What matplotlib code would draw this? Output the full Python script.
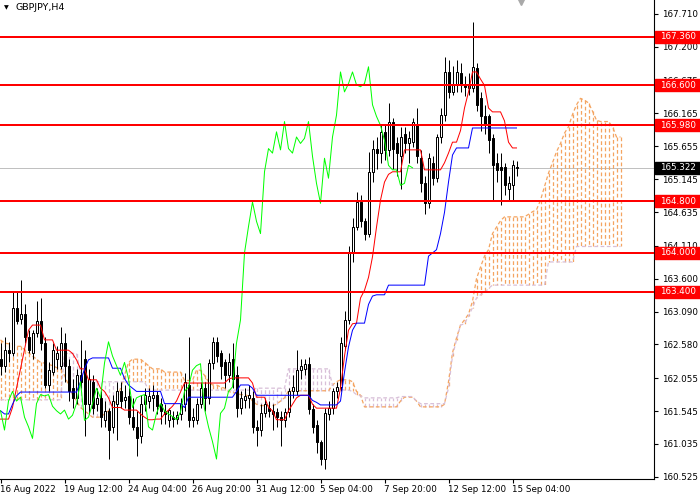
import matplotlib
matplotlib.use("Agg")
import matplotlib.pyplot as plt
import matplotlib.transforms as mtransforms
from matplotlib.patches import Rectangle

symbol = "GBPJPY,H4"

# H4 candles, bar 0 = 16 Aug 20:00
opens = [162.35, 162.25, 162.50, 162.45, 163.15, 162.98, 163.05, 162.70, 162.45, 162.75,
         162.95, 162.60, 161.95, 162.15, 162.35, 162.25, 162.60, 162.25, 161.90, 161.75,
         162.10, 162.35, 161.65, 162.00, 161.65, 161.75, 161.40, 161.55, 161.30, 161.65,
         161.85, 161.72, 161.78, 161.45, 161.30, 161.15, 161.66, 161.70, 161.75, 161.80,
         161.65, 161.55, 161.40, 161.45, 161.42, 161.50, 161.66, 161.95, 161.40, 161.41,
         161.66, 161.90, 161.75, 162.29, 162.62, 162.45, 162.30, 162.10, 162.35, 162.10,
         161.60, 161.72, 161.75, 161.75, 161.30, 161.25, 161.51, 161.60, 161.55, 161.53,
         161.46, 161.41, 161.53, 161.85, 161.85, 162.18, 162.20, 162.28, 161.58, 161.33,
         161.07, 160.80, 161.50, 161.59, 161.85, 161.92, 162.55, 162.96, 164.00, 164.41,
         164.79, 164.49, 164.30, 165.26, 165.62, 165.55, 165.88, 165.60, 166.04, 165.70,
         165.50, 165.85, 165.70, 165.73, 166.00, 165.47, 165.08, 164.77, 165.40, 165.16,
         165.80, 166.14, 166.81, 166.50, 166.60, 166.79, 166.63, 166.56, 166.56, 166.87,
         166.40, 166.12, 166.12, 165.78, 165.39, 165.34, 165.34, 165.00, 165.05, 165.33]
highs = [162.60, 162.70, 162.62, 163.40, 163.40, 163.58, 163.20, 162.80, 162.80, 163.25,
         163.30, 162.70, 162.30, 162.60, 162.55, 162.85, 162.75, 162.35, 162.05, 162.20,
         162.65, 162.50, 162.20, 162.10, 161.90, 161.85, 161.70, 161.60, 161.80, 162.00,
         162.00, 161.95, 161.90, 161.75, 161.55, 161.80, 161.90, 161.90, 161.95, 161.85,
         161.75, 161.65, 161.60, 161.55, 161.55, 161.75, 162.13, 162.70, 161.60, 161.75,
         162.00, 162.00, 162.35, 162.70, 162.70, 162.50, 162.35, 162.45, 162.60, 162.25,
         161.85, 161.90, 161.95, 161.85, 161.40, 161.66, 161.75, 161.70, 161.66, 161.60,
         161.55, 161.60, 161.90, 162.10, 162.49, 162.35, 162.35, 162.39, 161.65, 161.40,
         161.10, 161.60, 161.70, 161.90, 162.00, 162.70, 163.10, 164.10, 164.55, 164.95,
         164.90, 164.55, 165.57, 165.75, 165.80, 166.00, 166.00, 166.33, 166.10, 165.80,
         165.95, 165.95, 165.90, 166.10, 166.25, 165.60, 165.20, 165.55, 165.50, 165.85,
         166.25, 167.04, 167.00, 166.90, 167.00, 166.95, 166.75, 166.80, 167.58, 166.95,
         166.50, 166.30, 166.15, 165.85, 165.55, 165.55, 165.40, 165.20, 165.45, 165.42]
lows = [162.10, 162.15, 162.30, 162.40, 162.90, 162.90, 162.60, 162.45, 162.35, 162.70,
        162.50, 161.90, 161.85, 162.10, 162.20, 162.20, 162.00, 161.70, 161.60, 161.65,
        161.90, 161.15, 161.50, 161.50, 161.55, 161.30, 161.30, 160.80, 161.20, 161.10,
        161.60, 161.60, 161.35, 161.25, 160.84, 161.05, 161.55, 161.60, 161.55, 161.50,
        161.35, 161.35, 161.30, 161.30, 161.35, 161.40, 161.55, 161.30, 161.30, 161.35,
        161.60, 161.55, 161.65, 162.20, 162.30, 162.05, 161.90, 162.00, 161.90, 161.45,
        161.50, 161.60, 161.60, 161.20, 161.00, 161.15, 161.45, 161.45, 161.25, 161.30,
        161.00, 161.30, 161.45, 161.75, 161.80, 162.05, 162.10, 161.50, 161.20, 160.90,
        160.70, 160.65, 161.40, 161.50, 161.75, 161.85, 162.50, 162.90, 163.86, 164.35,
        164.40, 164.20, 164.25, 165.10, 165.30, 165.40, 165.45, 165.50, 165.30, 165.20,
        165.00, 165.55, 165.40, 165.65, 165.40, 164.95, 164.60, 164.70, 165.05, 165.10,
        165.70, 166.05, 166.40, 166.45, 166.50, 166.50, 166.43, 166.45, 166.50, 166.20,
        165.90, 165.85, 165.55, 164.82, 165.10, 164.74, 164.90, 164.80, 164.82, 165.20]
closes = [162.25, 162.50, 162.45, 163.15, 162.95, 163.05, 162.70, 162.50, 162.75, 162.95,
          162.60, 161.95, 162.18, 162.50, 162.45, 162.60, 162.25, 161.85, 161.75, 162.10,
          162.00, 161.65, 162.05, 161.60, 161.75, 161.45, 161.55, 161.25, 161.70, 161.85,
          161.70, 161.76, 161.45, 161.30, 161.12, 161.66, 161.80, 161.78, 161.80, 161.62,
          161.55, 161.50, 161.56, 161.42, 161.48, 161.66, 162.00, 161.40, 161.45, 161.66,
          161.90, 161.75, 162.29, 162.62, 162.40, 162.25, 162.10, 162.30, 162.05, 161.60,
          161.75, 161.78, 161.80, 161.30, 161.25, 161.51, 161.66, 161.55, 161.50, 161.46,
          161.41, 161.53, 161.85, 161.92, 162.18, 162.25, 162.28, 161.58, 161.30, 161.07,
          160.80, 161.51, 161.59, 161.85, 161.92, 162.60, 162.96, 164.00, 164.41, 164.79,
          164.49, 164.30, 165.26, 165.62, 165.55, 165.88, 165.60, 166.04, 165.62, 165.55,
          165.80, 165.70, 165.78, 166.04, 165.50, 165.08, 164.77, 165.47, 165.16, 165.80,
          166.14, 166.81, 166.50, 166.63, 166.81, 166.61, 166.58, 166.63, 166.89, 166.30,
          166.12, 165.98, 165.75, 165.36, 165.29, 165.29, 165.05, 165.08, 165.36, 165.322]

# Ichimoku lines
tenkan = [161.42, 161.42, 161.42, 161.60, 161.90, 162.20, 162.50, 162.80, 162.88, 162.88,
          162.88, 162.65, 162.65, 162.65, 162.49, 162.49, 162.49, 162.49, 162.44, 162.34,
          162.20, 162.20, 162.03, 162.03, 162.03, 161.90, 161.85, 161.75, 161.60, 161.60,
          161.60, 161.56, 161.56, 161.56, 161.56, 161.50, 161.45, 161.41, 161.41, 161.42,
          161.42, 161.50, 161.56, 161.62, 161.70, 161.84, 161.98, 161.98, 161.98, 161.98,
          161.98, 161.98, 161.98, 161.98, 161.98, 161.98, 161.98, 162.04, 162.06, 162.06,
          162.06, 162.06, 162.06, 161.98, 161.76, 161.76, 161.76, 161.60, 161.55, 161.41,
          161.41, 161.41, 161.55, 161.65, 161.75, 161.79, 161.79, 161.79, 161.65, 161.59,
          161.59, 161.59, 161.59, 161.59, 161.59, 161.90, 162.40, 162.80, 162.90, 162.91,
          163.30, 163.42, 163.62, 163.94, 164.40, 164.82, 165.10, 165.22, 165.26, 165.26,
          165.26, 165.60, 165.60, 165.60, 165.60, 165.60, 165.29, 165.29, 165.29, 165.29,
          165.29, 165.40, 165.55, 165.72, 165.72, 165.90, 166.25, 166.50, 166.81, 166.81,
          166.70, 166.60, 166.25, 166.19, 166.19, 166.19, 166.05, 165.72, 165.63, 165.63]
kijun = [161.55, 161.50, 161.50, 161.65, 161.78, 161.84, 161.84, 161.84, 161.84, 161.84,
         161.84, 161.84, 161.84, 161.84, 161.84, 161.84, 161.84, 161.84, 161.84, 161.84,
         162.00, 162.20, 162.34, 162.37, 162.37, 162.37, 162.37, 162.37, 162.21, 162.21,
         162.21, 162.05, 161.95, 161.90, 161.85, 161.85, 161.85, 161.85, 161.85, 161.85,
         161.85, 161.66, 161.66, 161.66, 161.66, 161.66, 161.60, 161.76, 161.76, 161.76,
         161.76, 161.76, 161.76, 161.76, 161.76, 161.76, 161.76, 161.76, 161.76, 161.85,
         161.95, 161.95, 161.95, 161.90, 161.79, 161.79, 161.79, 161.79, 161.79, 161.79,
         161.79, 161.79, 161.79, 161.79, 161.79, 161.79, 161.79, 161.79, 161.71, 161.68,
         161.64, 161.64, 161.64, 161.64, 161.64, 161.70, 162.15, 162.54, 162.80, 162.91,
         162.91, 162.91, 163.20, 163.33, 163.35, 163.35, 163.35, 163.50, 163.50, 163.50,
         163.50, 163.50, 163.50, 163.50, 163.50, 163.50, 163.50, 163.95, 164.00, 164.05,
         164.30, 164.63, 165.10, 165.52, 165.63, 165.63, 165.63, 165.63, 165.94, 165.94,
         165.94, 165.94, 165.94, 165.94, 165.94, 165.94, 165.94, 165.94, 165.94, 165.94]
span_a = [162.65, 162.60, 162.59, 162.59, 162.55, 162.55, 162.50, 162.45, 162.40, 162.35,
          162.30, 162.29, 162.27, 162.25, 162.22, 162.20, 162.10, 161.95, 161.80, 161.70,
          161.60, 161.55, 161.50, 161.45, 161.45, 161.45, 161.50, 161.55, 161.60, 161.70,
          161.90, 162.10, 162.30, 162.35, 162.35, 162.35, 162.30, 162.25, 162.20, 162.20,
          162.20, 162.15, 162.15, 162.15, 162.15, 162.15, 162.02, 162.02, 162.02, 162.18,
          162.18, 162.10, 162.00, 161.95, 161.95, 161.92, 161.90, 161.85, 161.83, 161.83,
          161.80, 161.80, 161.78, 161.70, 161.65, 161.63, 161.63, 161.63, 161.63, 161.65,
          161.70, 161.75, 161.86, 161.86, 161.86, 161.86, 161.86, 161.86, 161.86, 161.86,
          161.86, 161.86, 161.86, 161.95, 162.00, 162.03, 162.03, 162.03, 162.00, 161.85,
          161.79, 161.61, 161.61, 161.61, 161.61, 161.61, 161.61, 161.61, 161.61, 161.61,
          161.70, 161.76, 161.76, 161.76, 161.70, 161.61, 161.61, 161.61, 161.61, 161.61,
          161.61, 161.65, 162.00, 162.45, 162.68, 162.88, 162.96, 163.05, 163.25, 163.60,
          163.78, 163.95, 164.05, 164.30, 164.40, 164.50, 164.56, 164.56, 164.56, 164.56,
          164.56, 164.56, 164.60, 164.64, 164.67, 164.82, 165.03, 165.24, 165.40, 165.57,
          165.70, 165.86, 165.96, 166.15, 166.30, 166.40, 166.37, 166.33, 166.20, 166.06,
          166.04, 166.04, 166.04, 165.96, 165.80, 165.80]
span_b = [161.72, 161.72, 161.72, 161.72, 161.72, 161.72, 161.72, 161.72, 161.72, 161.72,
          161.72, 161.72, 161.72, 161.72, 161.72, 161.72, 162.44, 162.44, 162.44, 162.44,
          162.15, 162.10, 162.05, 162.00, 162.00, 162.00, 162.00, 162.00, 162.00, 162.00,
          162.00, 162.00, 162.00, 162.00, 162.00, 162.00, 162.00, 161.87, 161.87, 161.87,
          161.87, 161.87, 161.87, 161.87, 161.87, 161.87, 161.87, 161.87, 161.87, 161.87,
          161.87, 161.87, 161.87, 161.87, 161.87, 161.87, 161.87, 161.87, 161.87, 161.87,
          161.87, 161.87, 161.87, 161.87, 161.90, 161.90, 161.90, 161.90, 161.90, 161.90,
          161.90, 161.90, 162.20, 162.20, 162.20, 162.20, 162.20, 162.20, 162.20, 162.20,
          162.20, 162.20, 162.20, 161.95, 161.90, 161.88, 161.87, 161.87, 161.85, 161.80,
          161.78, 161.75, 161.75, 161.75, 161.75, 161.75, 161.75, 161.75, 161.75, 161.75,
          161.77, 161.77, 161.77, 161.77, 161.70, 161.66, 161.66, 161.66, 161.66, 161.66,
          161.66, 161.66, 161.90, 162.40, 162.65, 162.88, 162.90, 163.02, 163.15, 163.30,
          163.35, 163.38, 163.45, 163.50, 163.50, 163.50, 163.50, 163.50, 163.50, 163.50,
          163.50, 163.50, 163.50, 163.50, 163.50, 163.50, 163.50, 163.86, 163.86, 163.86,
          163.86, 163.86, 163.86, 163.86, 164.10, 164.10, 164.10, 164.10, 164.10, 164.10,
          164.10, 164.10, 164.10, 164.10, 164.10, 164.10]

levels = [167.360, 166.600, 165.980, 164.800, 164.000, 163.400]
last_price = 165.322
price_ticks = [167.710, 167.200, 166.675, 166.165, 165.655, 165.145, 164.635, 164.110,
               163.600, 163.090, 162.580, 162.055, 161.545, 161.035, 160.525]
date_ticks = [0, 16, 32, 48, 64, 80, 96, 112, 128]
date_labels = ["16 Aug 2022", "19 Aug 12:00", "24 Aug 04:00", "26 Aug 20:00",
               "31 Aug 12:00", "5 Sep 04:00", "7 Sep 20:00", "12 Sep 12:00", "15 Sep 04:00"]
shift = 26

FS = 6.3
LW = 0.72  # 1 px at 100 dpi
ORANGE = '#F4A460'
THISTLE = '#D8BFD8'
fig = plt.figure(figsize=(7, 5), dpi=100)
ax = fig.add_axes([0, 21 / 500, 654 / 700, 479 / 500])
# 4 px per bar, bar centres on pixel centres
ax.set_xlim(-0.125, 163.375)
ax.set_ylim(160.49, 167.927)

# cloud hatching + span lines (dotted, like MT4)
dash = (0, (3.0, 2.0))
xa = list(range(len(span_a)))
cols = [ORANGE if a >= b else THISTLE for a, b in zip(span_a, span_b)]
ax.vlines(xa, span_a, span_b, colors=cols, linestyles=dash, lw=0.9, zorder=2)
ax.plot(xa, span_a, color=ORANGE, lw=0.9, ls=dash, zorder=2)
ax.plot(xa, span_b, color=THISTLE, lw=0.9, ls=dash, zorder=2)

# current price line
ax.axhline(last_price, color='#C0C0C0', lw=LW, zorder=1)

# candles
xs = list(range(len(closes)))
ax.vlines(xs, lows, highs, color='black', lw=LW, zorder=3)
bottoms = [min(o, c) for o, c in zip(opens, closes)]
heights = [max(abs(c - o), 0.012) for o, c in zip(opens, closes)]
faces = ['white' if c >= o else 'black' for o, c in zip(opens, closes)]
ax.bar(xs, heights, bottom=bottoms, width=0.5, color=faces, edgecolor='black',
       linewidth=LW, zorder=4)

# tenkan / kijun / chikou
ax.plot(xs, tenkan, color='#FF0000', lw=LW, zorder=5)
ax.plot(xs, kijun, color='#0000FF', lw=LW, zorder=5)
chikou = closes[shift:]
ax.plot(range(len(chikou)), chikou, color='#00FF00', lw=LW, zorder=5)

# support / resistance levels
for lv in levels:
    ax.axhline(lv, color='#FF0000', lw=1.44, zorder=6)

# axes look
for s in ['left', 'top']:
    ax.spines[s].set_visible(False)
for s in ['right', 'bottom']:
    ax.spines[s].set_linewidth(0.8)
ax.yaxis.tick_right()
ax.set_yticks(price_ticks)
ax.set_yticklabels([f"{p:.3f}" for p in price_ticks])
ax.set_xticks(date_ticks)
ax.set_xticklabels(date_labels, ha='left')
ax.tick_params(axis='both', length=3, width=0.8, labelsize=FS, pad=1.5)
ax.tick_params(axis='y', pad=2.5)

# price boxes on the scale
trans = mtransforms.blended_transform_factory(ax.transAxes, ax.transData)
box_h = 12 / 64.4
for lv, fc in [(lv, '#FF0000') for lv in levels] + [(last_price, 'black')]:
    ax.add_patch(Rectangle((1.0015, lv - box_h / 2), 0.075, box_h, transform=trans,
                           facecolor=fc, edgecolor=fc, clip_on=False, zorder=8))
    ax.text(1.0085, lv, f"{lv:.3f}", transform=trans, color='white', fontsize=FS,
            va='center', ha='left', zorder=9, clip_on=False)

# chart shift marker and title
ax.plot([130.2], [167.927], marker='v', ms=7, color='#A9A9A9', clip_on=False, zorder=9)
fig.text(6 / 700, 1 - 8 / 500, "\u25BC", fontsize=4.5, va='center', ha='center')
fig.text(15 / 700, 1 - 8 / 500, symbol, fontsize=6.8, va='center', ha='left')

fig.savefig("out.png", dpi=100)
